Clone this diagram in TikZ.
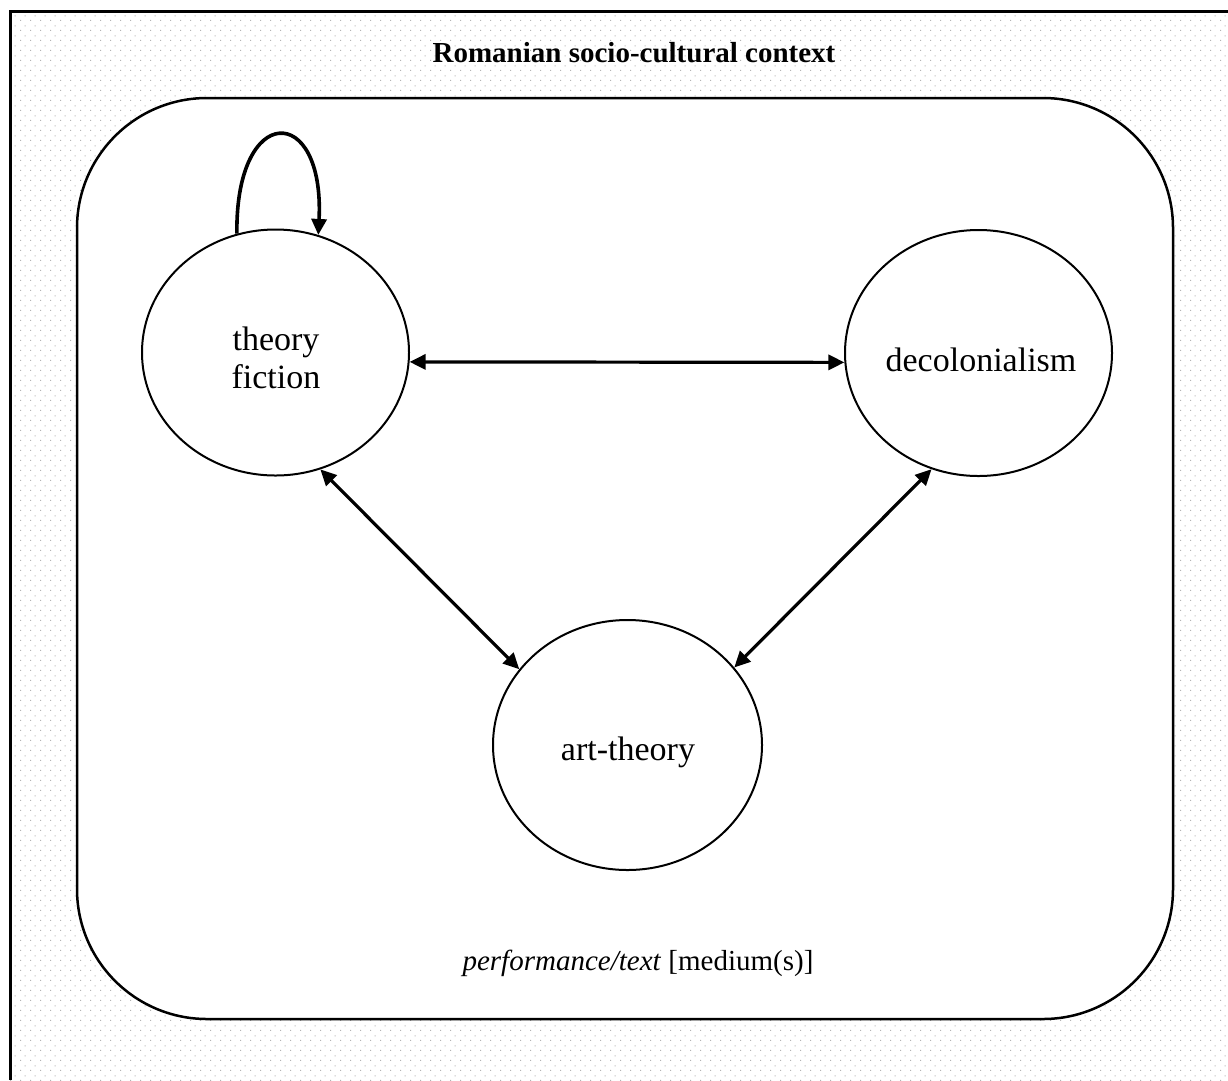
\documentclass[tikz,border=0pt]{standalone}
\usepackage{fontspec}
\setmainfont{Liberation Serif}
\usetikzlibrary{arrows.meta,shapes.geometric,patterns}
\pgfdeclarepatternformonly{mydots}{\pgfpointorigin}{\pgfpoint{10pt}{10pt}}{\pgfpoint{10pt}{10pt}}{%
  \pgfpathrectangle{\pgfpoint{0pt}{0pt}}{\pgfpoint{1.3pt}{1.3pt}}%
  \pgfpathrectangle{\pgfpoint{5pt}{5pt}}{\pgfpoint{1.3pt}{1.3pt}}%
  \pgfusepath{fill}}
\tikzset{
  concept/.style={draw, line width=2pt, ellipse, inner sep=0pt,
    minimum width=267pt, minimum height=246pt},
  conceptlabel/.style={align=center, inner sep=0pt, font=\fontsize{34}{38}\selectfont},
  link/.style={line width=3.2pt, {Triangle[length=16pt,width=15pt]}-{Triangle[length=16pt,width=15pt]}},
  selfloop/.style={line width=3.6pt, -{Triangle[length=16pt,width=15pt]}},
}
\begin{document}
\begin{tikzpicture}[x=1pt,y=-1pt]
\useasboundingbox (0,0) rectangle (1228,1080);
% dotted background inside frame
\fill[pattern=mydots, pattern color=black!30] (10,11) rectangle (1228,1080);
% frame (top and left edges visible)
\draw[line width=3pt] (10,1080) -- (10,11) -- (1228,11);
% rounded context box
\draw[line width=2.5pt, fill=white, rounded corners=130pt] (77,98) rectangle (1173,1019);
% title
\node (title) at (634,53) {\fontsize{29}{33}\selectfont\bfseries Romanian socio-cultural context};
% concepts
\node[concept] (tf) at (275.5,352.5) {};
\node[concept] (dc) at (978.5,353) {};
\node[concept, minimum width=269pt, minimum height=250pt] (at) at (627.5,745) {};
\node[conceptlabel] (tfl) at (276,358) {theory\\fiction};
\node[conceptlabel] (dcl) at (981,360) {decolonialism};
\node[conceptlabel] (atl) at (628,752) {art-theory};
% medium label
\node (med) at (638,963) {\fontsize{29}{33}\selectfont\textit{performance/text} [medium(s)]};
% connectors
\draw[link] (tf.-4) -- (dc.184);
\draw[link] (tf.-69.6) -- (at.145);
\draw[link] (dc.248) -- (at.36);
\draw[selfloop] (tf.108) .. controls (235,102) and (325,102) .. (tf.70);
\end{tikzpicture}
\end{document}
